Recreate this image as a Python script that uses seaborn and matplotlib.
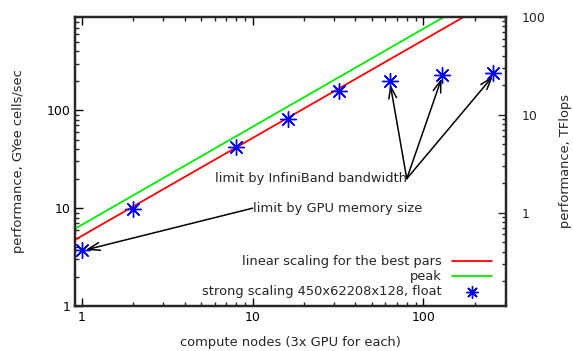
import matplotlib
matplotlib.use("Agg")
import matplotlib.pyplot as plt
import matplotlib.ticker as mticker
import seaborn as sns
import pandas as pd

# data
nodes = [1, 2, 8, 16, 32, 64, 128, 256]
perf = [3.73, 9.8, 42.2, 81, 157, 198, 228, 240]
line_x = [0.9, 300]
linear_y = [4.7, 1560]
peak_y = [6.1, 2040]

label_linear = "linear scaling for the best pars"
label_peak = "peak"
label_strong = "strong scaling 450x62208x128, float"

sns.set_style("ticks")
plt.rcParams['font.family'] = ['DejaVu Sans']
plt.rcParams['font.size'] = 9.4

fig = plt.figure(figsize=(5.73, 3.51), dpi=100)
ax = fig.add_axes([0.131, 0.128, 0.752, 0.824])

df_lines = pd.DataFrame({"x": line_x * 2, "y": linear_y + peak_y,
                         "s": [label_linear] * 2 + [label_peak] * 2})
sns.lineplot(data=df_lines, x="x", y="y", hue="s",
             palette={label_linear: "#ff0000", label_peak: "#00ee00"},
             linewidth=1.3, ax=ax)
df_pts = pd.DataFrame({"x": nodes, "y": perf})
sns.scatterplot(data=df_pts, x="x", y="y", marker=(8, 2, 0), s=130,
                color="#0000ff", linewidth=1.0, edgecolor="#0000ff",
                label=label_strong, ax=ax, zorder=5)

ax.set_xscale("log")
ax.set_yscale("log")
ax.set_xlim(0.91, 305)
ax.set_ylim(1, 900)

fmt = mticker.FuncFormatter(lambda v, p: f"{v:g}")
ax.xaxis.set_major_formatter(fmt)
ax.yaxis.set_major_formatter(fmt)
ax.xaxis.set_minor_formatter(mticker.NullFormatter())
ax.yaxis.set_minor_formatter(mticker.NullFormatter())
ax.tick_params(axis="x", which="both", direction="in", top=True, bottom=True)
ax.tick_params(axis="y", which="both", direction="in", left=True, right=False)
ax.tick_params(which="major", length=6, width=1, labelsize=9, colors="black")
ax.tick_params(which="minor", length=3, width=1)
for sp in ax.spines.values():
    sp.set_visible(True)
    sp.set_linewidth(1.6)
    sp.set_color("black")

ax.set_xlabel("compute nodes (3x GPU for each)", fontsize=9.4, labelpad=9)
ax.set_ylabel("performance, GYee cells/sec", fontsize=9.4, labelpad=15)

ax2 = ax.twinx()
ax2.set_yscale("log")
ax2.set_ylim(1 / 9, 100)
ax2.yaxis.set_major_formatter(fmt)
ax2.yaxis.set_minor_formatter(mticker.NullFormatter())
ax2.tick_params(axis="y", which="both", direction="in", right=True)
ax2.tick_params(which="major", length=6, width=1, labelsize=9, pad=11)
ax2.tick_params(which="minor", length=3, width=1)
for sp in ax2.spines.values():
    sp.set_linewidth(1.6)
ax2.set_ylabel("performance, TFlops", fontsize=9.4, labelpad=10)

# annotations
arrow = dict(arrowstyle="->,head_length=0.9,head_width=0.3", color="black", lw=1.1,
             shrinkA=0, shrinkB=0)
ax.text(80, 20, "limit by InfiniBand bandwidth", ha="right", va="center", fontsize=9.4)
for xt, yt in zip(nodes[5:], perf[5:]):
    ax.annotate("", xy=(xt, yt * 0.93), xytext=(80, 20), arrowprops=arrow)
ax.text(10, 10, "limit by GPU memory size", ha="left", va="center", fontsize=9.4)
ax.annotate("", xy=(1.05, 3.75), xytext=(10, 10), arrowprops=arrow)

handles, labels = ax.get_legend_handles_labels()
order = [labels.index(label_linear), labels.index(label_peak), labels.index(label_strong)]
leg = ax.legend([handles[i] for i in order], [labels[i] for i in order],
                loc="lower right", frameon=False, markerfirst=False,
                fontsize=9.4, handlelength=3.0, handletextpad=0.8, markerscale=0.75,
                labelspacing=0.15, borderaxespad=0.2, bbox_to_anchor=(0.985, 0.0))
for t in leg.get_texts():
    t.set_ha("right")
leg._legend_box.align = "right"

fig.savefig("out.png", dpi=100)
